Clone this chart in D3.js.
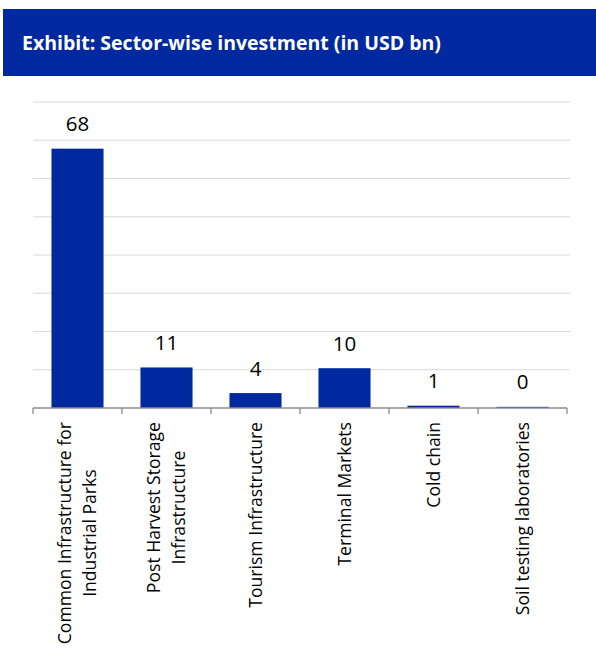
<!DOCTYPE html>
<html>
<head>
<meta charset="utf-8">
<script src="https://cdn.jsdelivr.net/npm/d3@7"></script>
<style>
  body { margin: 0; background: #fff; }
  svg { display: block; font-family: "Open Sans", sans-serif; }
</style>
</head>
<body>
<div id="chart"></div>
<script>
// sector labels (line breaks as in the source)
var categories = [
  ["Common Infrastructure for", "Industrial Parks"],
  ["Post Harvest Storage", "Infrastructure"],
  ["Tourism Infrastructure"],
  ["Terminal Markets"],
  ["Cold chain"],
  ["Soil testing laboratories"]
];
var values = [67.8, 10.6, 3.9, 10.4, 0.6, 0.3];
var yTicks = [0, 10, 20, 30, 40, 50, 60, 70, 80];
var title = "Exhibit: Sector-wise investment (in USD bn)";

var width = 596, height = 659;
var blue = "#0029a0";

var svg = d3.select("#chart").append("svg")
  .attr("width", width)
  .attr("height", height);

// header band
svg.append("rect")
  .attr("x", 3).attr("y", 9)
  .attr("width", width - 3).attr("height", 67)
  .attr("fill", blue);

svg.append("text")
  .attr("x", 22).attr("y", 50)
  .attr("fill", "#fff")
  .attr("font-weight", "bold")
  .attr("font-size", 19.5)
  .text(title);

var x = d3.scaleBand()
  .domain(d3.range(categories.length))
  .range([33, 567])
  .paddingInner(0.415)
  .paddingOuter(0.2075);

var y = d3.scaleLinear()
  .domain([0, 80])
  .range([408, 102]);

// gridlines
svg.append("g")
  .selectAll("line")
  .data(yTicks.slice(1))
  .enter().append("line")
  .attr("x1", 33).attr("x2", 570)
  .attr("y1", function(d) { return y(d); })
  .attr("y2", function(d) { return y(d); })
  .attr("stroke", "#d9d9d9")
  .attr("stroke-width", 1.2);

// bars
svg.append("g")
  .selectAll("rect")
  .data(values)
  .enter().append("rect")
  .attr("x", function(d, i) { return x(i); })
  .attr("y", function(d) { return y(d); })
  .attr("width", x.bandwidth())
  .attr("height", function(d) { return y(0) - y(d); })
  .attr("fill", blue);

// value labels
svg.append("g")
  .selectAll("text")
  .data(values)
  .enter().append("text")
  .attr("x", function(d, i) { return x(i) + x.bandwidth() / 2; })
  .attr("y", function(d) { return y(d) - 17.5; })
  .attr("text-anchor", "middle")
  .attr("font-size", 20.5)
  .attr("fill", "#000")
  .text(function(d) { return d3.format(".0f")(d); });

// x axis line with boundary ticks
var bounds = d3.range(categories.length + 1).map(function(i) {
  return 33 + i * x.step();
});
var axis = svg.append("g").attr("stroke", "#8c8c8c").attr("stroke-width", 1.3);
axis.append("line")
  .attr("x1", 33).attr("x2", 567)
  .attr("y1", y(0)).attr("y2", y(0));
axis.selectAll(".tk")
  .data(bounds)
  .enter().append("line")
  .attr("class", "tk")
  .attr("x1", function(d) { return d; })
  .attr("x2", function(d) { return d; })
  .attr("y1", y(0)).attr("y2", y(0) + 6);

// category labels, rotated, lines centred on each other
var lineGap = 25.5;
var cat = svg.append("g")
  .selectAll("g")
  .data(categories)
  .enter().append("g");

cat.each(function(lines, i) {
  var g = d3.select(this);
  var cx = x(i) + x.bandwidth() / 2;
  var texts = g.selectAll("text")
    .data(lines)
    .enter().append("text")
    .attr("text-anchor", "middle")
    .attr("font-size", 17.6)
    .attr("fill", "#000")
    .attr("dy", "0.35em")
    .text(function(d) { return d; });
  var maxLen = d3.max(texts.nodes(), function(n) { return n.getComputedTextLength(); });
  var cy = 422 + maxLen / 2;
  texts.attr("transform", function(d, j) {
    var lx = cx + (j - (lines.length - 1) / 2) * lineGap;
    return "translate(" + lx + "," + cy + ") rotate(-90)";
  });
});
</script>
</body>
</html>
